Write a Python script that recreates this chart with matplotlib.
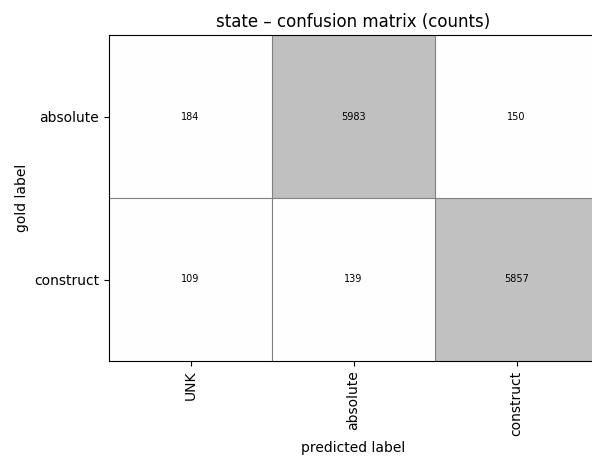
import numpy as np
import matplotlib
matplotlib.use("Agg")
import matplotlib.pyplot as plt

# confusion matrix for the "state" attribute
gold_labels = ["absolute", "construct"]
pred_labels = ["UNK", "absolute", "construct"]
counts = np.array([[184, 5983, 150],
                   [109, 139, 5857]])

fig = plt.figure(figsize=(5.92, 4.62), dpi=100)
ax = fig.add_axes([109 / 592, 101 / 462, 489 / 592, 326 / 462])

ax.imshow(counts, cmap="Greys", alpha=0.25, vmin=0, aspect="auto",
          interpolation="nearest")

for i in range(counts.shape[0]):
    for j in range(counts.shape[1]):
        ax.text(j, i, str(counts[i, j]), ha="center", va="center", fontsize=7)

# cell borders
for x in np.arange(0.5, counts.shape[1] - 0.5):
    ax.axvline(x, color="#808080", lw=0.8)
for y in np.arange(0.5, counts.shape[0] - 0.5):
    ax.axhline(y, color="#808080", lw=0.8)

ax.set_xticks(range(len(pred_labels)))
ax.set_xticklabels(pred_labels, rotation=90, fontsize=10)
ax.set_yticks(range(len(gold_labels)))
ax.set_yticklabels(gold_labels, fontsize=10)
ax.set_xlabel("predicted label", fontsize=10)
ax.set_ylabel("gold label", fontsize=10)
ax.set_title("state \u2013 confusion matrix (counts)", fontsize=12)

fig.savefig("out.png", dpi=100)
